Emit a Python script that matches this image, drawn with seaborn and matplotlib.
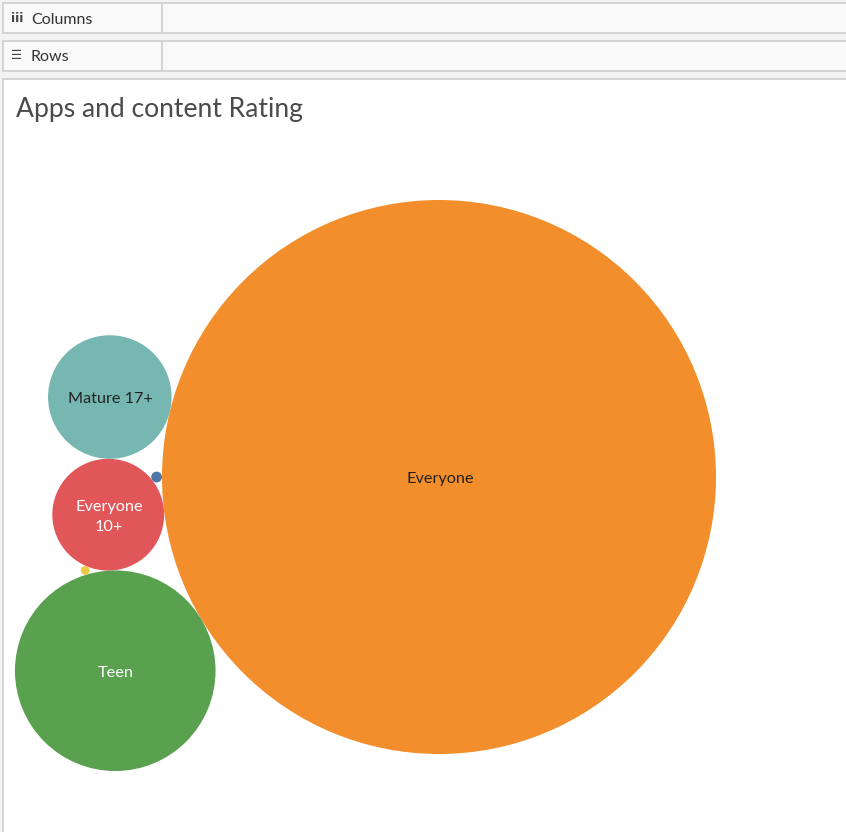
import numpy as np
import pandas as pd
import matplotlib
matplotlib.use("Agg")
import matplotlib.pyplot as plt
from matplotlib.patches import Rectangle
import seaborn as sns

# ---- data ----
ratings = ["Adults only 18+", "Everyone", "Everyone 10+", "Mature 17+", "Teen", "Unrated"]
app_counts = [3, 7903, 322, 393, 1036, 2]
label_shown = ["", "Everyone", "Everyone\n10+", "Mature 17+", "Teen", ""]
title = "Apps and content Rating"

colors = {"Adults only 18+": "#4E79A7", "Everyone": "#F28E2B", "Everyone 10+": "#E15759",
          "Mature 17+": "#76B7B2", "Teen": "#59A14F", "Unrated": "#EDC948"}
text_colors = {"Everyone": "#222222", "Mature 17+": "#222222", "Everyone 10+": "white", "Teen": "white"}

W, H, DPI = 846, 832, 100
sns.set_theme(style="white")
plt.rcParams["font.family"] = ["Lato", "DejaVu Sans"]

df = pd.DataFrame({"rating": ratings, "count": app_counts, "label": label_shown})
vmax = df["count"].max()
R_MAX = 277.0  # radius (px) of the largest bubble
df["r"] = R_MAX * np.sqrt(df["count"] / vmax)

# ---- packed-bubble layout: each bubble tangent to two already placed ones ----
def tangent(a, ra, b, rb, r, side):
    a, b = np.asarray(a, float), np.asarray(b, float)
    dA, dB = ra + r, rb + r
    v = b - a
    d = np.hypot(*v)
    u = v / d
    x = (dA**2 - dB**2 + d**2) / (2 * d)
    h = np.sqrt(max(dA**2 - x**2, 0))
    perp = np.array([-u[1], u[0]])
    return a + x * u + side * h * perp

rr = dict(zip(df["rating"], df["r"]))
pos = {}
pos["Everyone"] = np.array([439.0, 477.0])
ang = np.deg2rad(173.5)
pos["Everyone 10+"] = pos["Everyone"] + (rr["Everyone"] + rr["Everyone 10+"]) * np.array([np.cos(ang), np.sin(ang)])
pos["Mature 17+"] = tangent(pos["Everyone"], rr["Everyone"], pos["Everyone 10+"], rr["Everyone 10+"], rr["Mature 17+"], +1)
pos["Teen"] = tangent(pos["Everyone"], rr["Everyone"], pos["Everyone 10+"], rr["Everyone 10+"], rr["Teen"], -1)
pos["Adults only 18+"] = tangent(pos["Everyone"], rr["Everyone"], pos["Everyone 10+"], rr["Everyone 10+"], rr["Adults only 18+"], +1)
pos["Unrated"] = tangent(pos["Everyone 10+"], rr["Everyone 10+"], pos["Teen"], rr["Teen"], rr["Unrated"], +1)
df["x"] = [pos[k][0] for k in df["rating"]]
df["y"] = [pos[k][1] for k in df["rating"]]

# ---- figure ----
fig = plt.figure(figsize=(W / DPI, H / DPI), dpi=DPI)
fig.patch.set_facecolor("#f3f3f3")
ax = fig.add_axes([0, 0, 1, 1])
ax.set_xlim(0, W)
ax.set_ylim(H, 0)
ax.axis("off")

px = 72.0 / DPI
edge = "#d4d4d4"
# shelves
for (y0, y1, name, icon) in [(3, 33, "Columns", "iii"), (40.5, 71, "Rows", "\u2630")]:
    ax.add_patch(Rectangle((3, y0), W + 10, y1 - y0, facecolor="#f9f9f9", edgecolor=edge, lw=2 * px, zorder=1))
    ax.plot([162, 162], [y0, y1], color=edge, lw=2 * px, zorder=2)
    ax.text(11, (y0 + y1) / 2, icon, fontsize=9, fontweight="bold", color="#444444",
            va="center", ha="left", family=["DejaVu Sans"], zorder=3)
    ax.text(31, (y0 + y1) / 2 + 1.5, name, fontsize=11.5, color="#333333", va="center", ha="left", zorder=3)

# view panel
ax.add_patch(Rectangle((3, 78.5), W + 10, H, facecolor="white", edgecolor=edge, lw=2 * px, zorder=1))
ax.text(16, 110, title, fontsize=19.1, fontweight="normal", color="#4a4a4a", va="center", ha="left", zorder=3)

# bubbles
smax = (2 * R_MAX * px) ** 2
sns.scatterplot(data=df, x="x", y="y", hue="rating", palette=colors, size="count",
                sizes=(0, smax), size_norm=(0, vmax), linewidth=0, legend=False, ax=ax, zorder=4)
ax.set_xlim(0, W)
ax.set_ylim(H, 0)
ax.axis("off")

for _, row in df.iterrows():
    if row["label"]:
        ax.text(row["x"] + 1, row["y"] + 2, row["label"], fontsize=11.7, color=text_colors[row["rating"]],
                ha="center", va="center", linespacing=1.55, zorder=5)

fig.savefig("out.png", dpi=DPI)
